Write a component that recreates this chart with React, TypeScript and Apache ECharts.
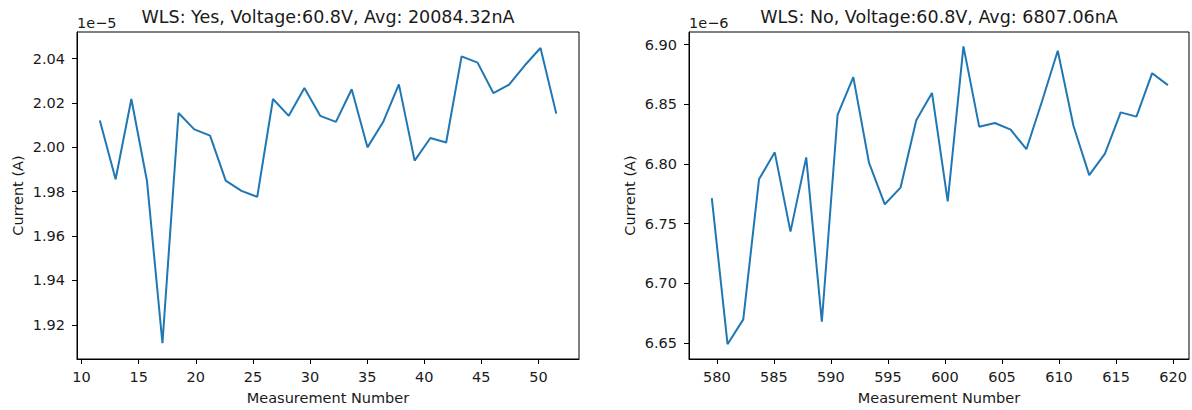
import React, { useEffect, useRef } from "react";
import * as echarts from "echarts";

// Left panel: WLS = Yes (current in units of 1e-5 A)
const yesMeasurement = [
  11.6, 12.98, 14.36, 15.73, 17.08, 18.49, 19.87, 21.25, 22.62, 24.0,
  25.38, 26.76, 28.14, 29.51, 30.89, 32.27, 33.65, 35.03, 36.4, 37.78,
  39.16, 40.54, 41.92, 43.27, 44.67, 46.05, 47.43, 48.81, 50.18, 51.56,
];
const yesCurrent = [
  2.0121, 1.9856, 2.0218, 1.9847, 1.9117, 2.0155, 2.0081, 2.0053, 1.985, 1.9804,
  1.9777, 2.0218, 2.0142, 2.0268, 2.0142, 2.0115, 2.0262, 2.0, 2.0114, 2.0284,
  1.994, 2.0042, 2.0022, 2.041, 2.0382, 2.0245, 2.0283, 2.037, 2.0448, 2.0152,
];

// Right panel: WLS = No (current in units of 1e-6 A)
const noMeasurement = [
  579.55, 580.93, 582.31, 583.69, 585.07, 586.45, 587.83, 589.2, 590.58, 591.96,
  593.34, 594.72, 596.1, 597.48, 598.86, 600.24, 601.62, 603.0, 604.38, 605.76,
  607.14, 608.51, 609.89, 611.27, 612.65, 614.03, 615.41, 616.79, 618.17, 619.55,
];
const noCurrent = [
  6.7714, 6.649, 6.6698, 6.7871, 6.8097, 6.7433, 6.8055, 6.6678, 6.841, 6.8727,
  6.8008, 6.7662, 6.7801, 6.8365, 6.8595, 6.7687, 6.8985, 6.8312, 6.8343, 6.8287,
  6.8123, 6.8525, 6.8948, 6.8318, 6.7906, 6.8086, 6.8432, 6.8396, 6.876, 6.866,
];

const yesXTicks = [10, 15, 20, 25, 30, 35, 40, 45, 50];
const yesYTicks = [1.92, 1.94, 1.96, 1.98, 2.0, 2.02, 2.04];
const noXTicks = [580, 585, 590, 595, 600, 605, 610, 615, 620];
const noYTicks = [6.65, 6.7, 6.75, 6.8, 6.85, 6.9];

const titles = [
  "WLS: Yes, Voltage:60.8V, Avg: 20084.32nA",
  "WLS: No, Voltage:60.8V, Avg: 6807.06nA",
];
const offsets = ["1e\u22125", "1e\u22126"];
const xName = "Measurement Number";
const yName = "Current (A)";

const FONT = "DejaVu Sans";
const TXT = "#1a1a1a";
const LINE = "#1f77b4";
const FS = 14.5;
const TITLE_FS = 17.5;

export default function App() {
  const ref = useRef<HTMLDivElement>(null);
  useEffect(() => {
    if (!ref.current) return;
    const chart = echarts.init(ref.current, undefined, { renderer: "svg" });

    const grids = [
      { left: 77, top: 32, width: 502, height: 327 },
      { left: 689, top: 32, width: 500, height: 327 },
    ];

    const mkX = (i: number, min: number, max: number, ticks: number[]) => ({
      type: "value",
      gridIndex: i,
      min,
      max,
      axisLine: { show: true, onZero: false, lineStyle: { color: "#000", width: 1 } },
      axisTick: {
        show: true,
        inside: false,
        length: 5,
        lineStyle: { color: "#000", width: 1 },
        customValues: ticks,
      },
      axisLabel: {
        show: true,
        customValues: ticks,
        formatter: (v: number) => String(Math.round(v)),
        color: TXT,
        fontSize: FS,
        fontFamily: FONT,
        margin: 10,
      },
      splitLine: { show: false },
      name: xName,
      nameLocation: "middle",
      nameGap: 31,
      nameTextStyle: { color: TXT, fontSize: FS, fontFamily: FONT },
    });

    const mkY = (i: number, min: number, max: number, ticks: number[]) => ({
      type: "value",
      gridIndex: i,
      min,
      max,
      axisLine: { show: true, onZero: false, lineStyle: { color: "#000", width: 1 } },
      axisTick: {
        show: true,
        inside: false,
        length: 5,
        lineStyle: { color: "#000", width: 1 },
        customValues: ticks,
      },
      axisLabel: {
        show: true,
        customValues: ticks,
        formatter: (v: number) => v.toFixed(2),
        color: TXT,
        fontSize: FS,
        fontFamily: FONT,
        margin: 12,
      },
      splitLine: { show: false },
      name: yName,
      nameLocation: "middle",
      nameRotate: 90,
      nameGap: 52,
      nameTextStyle: { color: TXT, fontSize: FS, fontFamily: FONT },
    });

    const textEl = (x: number, y: number, text: string, size: number, align: string) => ({
      type: "text",
      x,
      y,
      style: {
        text,
        fontSize: size,
        fontFamily: FONT,
        fill: TXT,
        align,
        verticalAlign: "middle",
      },
    });

    chart.setOption({
      animation: false,
      backgroundColor: "#fff",
      grid: grids.map((g) => ({
        ...g,
        show: true,
        borderColor: "#000",
        borderWidth: 1,
        backgroundColor: "transparent",
        containLabel: false,
      })),
      xAxis: [
        mkX(0, 9.6, 53.55, yesXTicks),
        mkX(1, 577.55, 621.4, noXTicks),
      ],
      yAxis: [
        mkY(0, 1.9046, 2.052, yesYTicks),
        mkY(1, 6.6366, 6.9105, noYTicks),
      ],
      series: [
        {
          type: "line",
          xAxisIndex: 0,
          yAxisIndex: 0,
          data: yesMeasurement.map((x, k) => [x, yesCurrent[k]]),
          showSymbol: false,
          symbol: "none",
          lineStyle: { color: LINE, width: 2 },
          itemStyle: { color: LINE },
        },
        {
          type: "line",
          xAxisIndex: 1,
          yAxisIndex: 1,
          data: noMeasurement.map((x, k) => [x, noCurrent[k]]),
          showSymbol: false,
          symbol: "none",
          lineStyle: { color: LINE, width: 2 },
          itemStyle: { color: LINE },
        },
      ],
      graphic: [
        textEl(328, 17, titles[0], TITLE_FS, "center"),
        textEl(939, 17, titles[1], TITLE_FS, "center"),
        textEl(77, 23, offsets[0], FS, "left"),
        textEl(689, 23, offsets[1], FS, "left"),
      ],
    });

    return () => chart.dispose();
  }, []);

  return (
    <div
      ref={ref}
      style={{ position: "fixed", left: 0, top: 0, width: 1192, height: 410, background: "#fff" }}
    />
  );
}
